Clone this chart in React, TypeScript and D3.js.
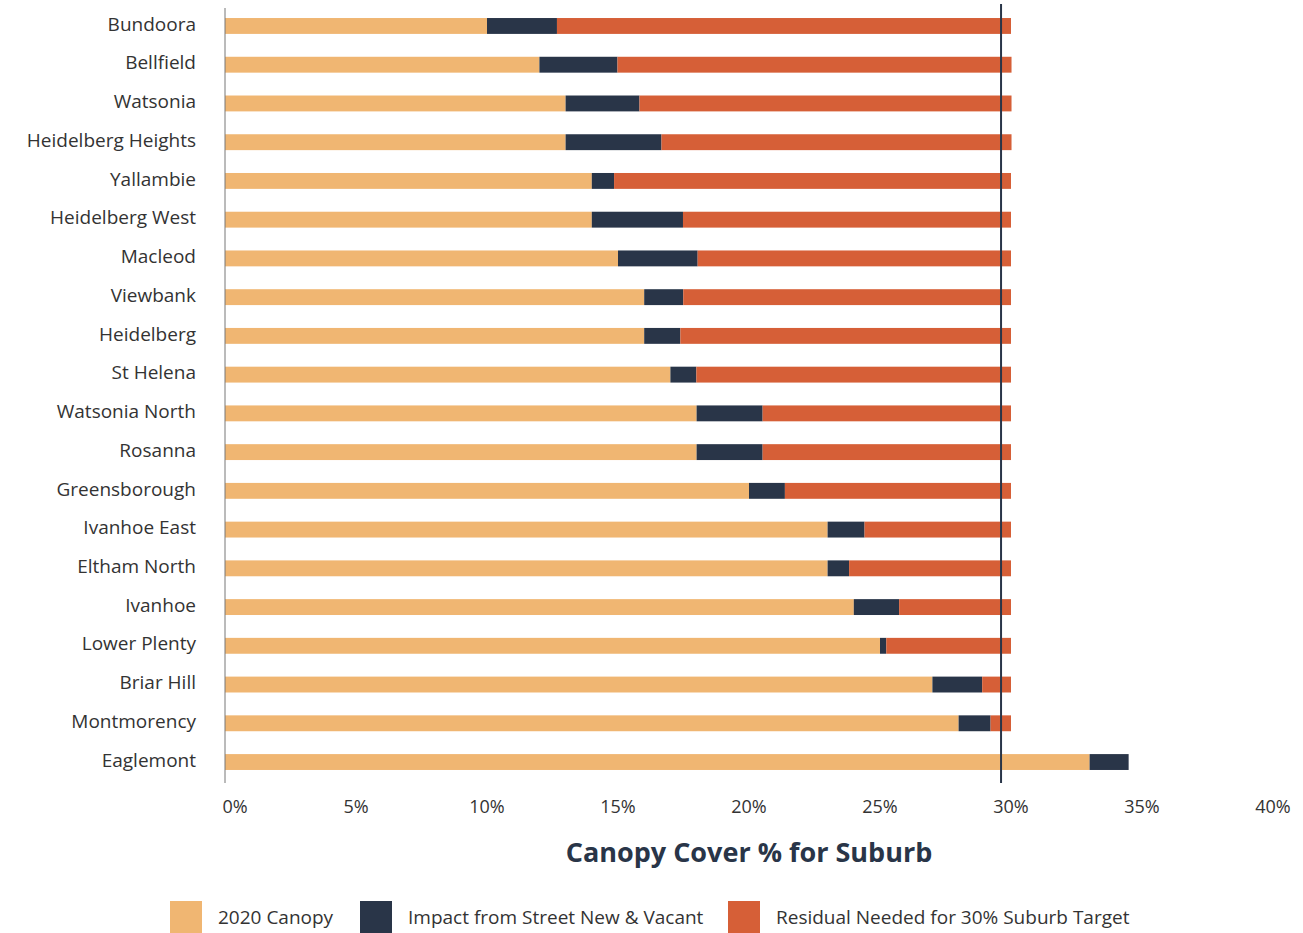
import React from "react";
import * as d3 from "d3";

const suburbs = [
  "Bundoora", "Bellfield", "Watsonia", "Heidelberg Heights", "Yallambie",
  "Heidelberg West", "Macleod", "Viewbank", "Heidelberg", "St Helena",
  "Watsonia North", "Rosanna", "Greensborough", "Ivanhoe East", "Eltham North",
  "Ivanhoe", "Lower Plenty", "Briar Hill", "Montmorency", "Eaglemont",
];
const canopy2020 = [10, 12, 13, 13, 14, 14, 15, 16, 16, 17, 18, 18, 20, 23, 23, 24, 25, 27, 28, 33];
const impactStreet = [2.67, 2.98, 2.82, 3.66, 0.85, 3.48, 3.04, 1.49, 1.38, 0.99, 2.52, 2.52, 1.37, 1.41, 0.82, 1.73, 0.24, 1.9, 1.22, 1.49];
const residual = [17.33, 15.04, 14.2, 13.36, 15.15, 12.52, 11.96, 12.51, 12.62, 12.01, 9.48, 9.48, 8.63, 5.59, 6.18, 4.27, 4.76, 1.1, 0.78, 0];
const xTicks = [0, 5, 10, 15, 20, 25, 30, 35, 40];
const targetLine = 29.62;
const seriesNames = ["2020 Canopy", "Impact from Street New & Vacant", "Residual Needed for 30% Suburb Target"];
const seriesColors = ["#F0B672", "#293548", "#D65F37"];

export default function App() {
  const W = 1303, H = 933;
  const x = d3.scaleLinear().domain([0, 40]).range([225, 1273]);
  const y = d3.scaleBand<string>().domain(suburbs).range([6.6, 781.4]).paddingInner(0.59).paddingOuter(0.295);
  const rows = suburbs.map((s, i) => ({ s, vals: [canopy2020[i], impactStreet[i], residual[i]] }));
  const stack = d3.stack<any>().keys(["0", "1", "2"]).value((d, k) => d.vals[+k]);
  const series = stack(rows);
  const font = "'Open Sans', 'Noto Sans', sans-serif";
  const legendX = [170, 360, 728];
  return (
    <svg width={W} height={H} style={{ position: "absolute", left: 0, top: 0, background: "#fff" }} fontFamily={font}>
      {series.map((ser, k) => (
        <g key={k} fill={seriesColors[k]}>
          {ser.map((d, i) => (
            d[1] - d[0] > 0 ? (
              <rect key={i} x={x(d[0])} y={y(suburbs[i])} width={x(d[1]) - x(d[0])} height={y.bandwidth()} />
            ) : null
          ))}
        </g>
      ))}
      <line x1={x(0)} x2={x(0)} y1={8} y2={783} stroke="#777" strokeWidth={1} />
      <line x1={x(targetLine)} x2={x(targetLine)} y1={4} y2={783} stroke="#293548" strokeWidth={2} />
      {suburbs.map((s) => (
        <text key={s} x={196} y={(y(s) as number) + y.bandwidth() / 2 - 2} dy="0.35em" textAnchor="end" fontSize={19} fill="#333">{s}</text>
      ))}
      {xTicks.map((t) => (
        <text key={t} x={x(t) + (t === 0 ? 10 : 0)} y={807} dy="0.35em" textAnchor="middle" fontSize={18} fill="#333">{t}%</text>
      ))}
      <text x={749} y={853} dy="0.35em" textAnchor="middle" fontSize={27} fontWeight="bold" fill="#293548">Canopy Cover % for Suburb</text>
      {seriesNames.map((n, k) => (
        <g key={n}>
          <rect x={legendX[k]} y={901} width={32} height={32} fill={seriesColors[k]} />
          <text x={legendX[k] + 48} y={917} dy="0.35em" fontSize={19} fill="#333">{n}</text>
        </g>
      ))}
    </svg>
  );
}
